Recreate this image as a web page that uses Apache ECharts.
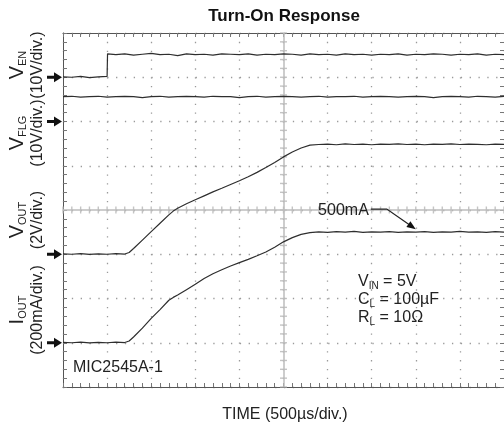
<!DOCTYPE html>
<html><head><meta charset="utf-8">
<script src="https://cdn.jsdelivr.net/npm/echarts/dist/echarts.min.js"></script>
<style>html,body{margin:0;padding:0;background:#fff}#c{width:504px;height:423px}</style>
</head><body><div id="c"></div>
<script>
// time axis: 500 µs/div, 10 divisions
const timeRangeUs = [0, 5000];
// V_EN (V), 10V/div
const venTrace = [[0,0.1],[100,0.0],[200,0.2],[300,-0.1],[400,0.1],[500,0.2],[505,5.3],[600,5.1],[700,5.3],[800,5.0],[900,5.2],[1000,5.4],[1100,5.1],[1200,5.2],[1300,4.9],[1400,5.3],[1500,5.1],[1600,5.2],[1700,5.0],[1800,5.3],[1900,5.2],[2000,5.1],[2100,5.3],[2200,5.0],[2300,5.2],[2400,5.1],[2500,5.3],[2600,5.2],[2700,5.0],[2800,5.3],[2900,5.1],[3000,5.2],[3100,5.0],[3200,5.3],[3300,5.1],[3400,5.2],[3500,5.0],[3600,5.2],[3700,5.1],[3800,5.3],[3900,5.0],[4000,5.2],[4100,5.1],[4200,5.3],[4300,5.2],[4400,5.0],[4500,5.2],[4600,5.1],[4700,5.3],[4800,5.0],[4900,5.2],[5000,5.1]];
// V_FLG (V), 10V/div
const vflgTrace = [[0,5.6],[100,5.7],[200,5.5],[300,5.6],[400,5.7],[500,5.5],[600,5.6],[700,5.7],[800,5.6],[900,5.4],[1000,5.6],[1100,5.7],[1200,5.5],[1300,5.6],[1400,5.7],[1500,5.6],[1600,5.5],[1700,5.7],[1800,5.6],[1900,5.6],[2000,5.4],[2100,5.6],[2200,5.7],[2300,5.5],[2400,5.6],[2500,5.7],[2600,5.6],[2700,5.5],[2800,5.6],[2900,5.7],[3000,5.5],[3100,5.6],[3200,5.6],[3300,5.7],[3400,5.5],[3500,5.6],[3600,5.7],[3700,5.6],[3800,5.5],[3900,5.6],[4000,5.7],[4100,5.6],[4200,5.4],[4300,5.6],[4400,5.7],[4500,5.6],[4600,5.5],[4700,5.7],[4800,5.6],[4900,5.5],[5000,5.7]];
// V_OUT (V), 2V/div
const voutTrace = [[0,0.02],[100,0.0],[200,0.03],[300,-0.01],[400,0.02],[500,0.0],[600,0.03],[700,0.01],[750,0.08],[800,0.26],[900,0.64],[1000,1.02],[1100,1.4],[1200,1.78],[1250,1.95],[1300,2.08],[1400,2.28],[1500,2.46],[1600,2.64],[1700,2.82],[1800,2.98],[1900,3.15],[2000,3.32],[2100,3.5],[2200,3.7],[2300,3.92],[2400,4.15],[2500,4.4],[2600,4.62],[2700,4.8],[2800,4.93],[2900,4.96],[3000,4.98],[3100,4.95],[3200,4.99],[3300,4.96],[3400,4.98],[3500,4.95],[3600,4.98],[3700,4.97],[3800,4.99],[3900,4.96],[4000,4.98],[4100,4.95],[4200,4.98],[4300,4.97],[4400,4.99],[4500,4.96],[4600,4.98],[4700,4.97],[4800,4.95],[4900,4.98],[5000,4.97]];
// I_OUT (mA), 200mA/div
const ioutTrace = [[0,2],[100,0],[200,3],[300,-1],[400,2],[500,0],[600,3],[700,1],[750,8],[800,26],[900,66],[1000,110],[1100,150],[1200,192],[1250,205],[1300,216],[1400,240],[1500,264],[1600,290],[1700,312],[1800,330],[1900,347],[2000,362],[2100,377],[2200,393],[2300,410],[2400,432],[2500,456],[2600,475],[2700,490],[2800,498],[2900,501],[3000,499],[3100,502],[3200,500],[3300,503],[3400,499],[3500,501],[3600,500],[3700,502],[3800,499],[3900,501],[4000,500],[4100,502],[4200,499],[4300,501],[4400,500],[4500,503],[4600,500],[4700,501],[4800,499],[4900,502],[5000,500]];
// channel scales: [min, max] so that each ground sits on its marker
const venRange = [-70, 10];
const vflgRange = [-60, 20];
const voutRange = [-6, 10];
const ioutRange = [-200, 1400];
const annotation500mA = [4000, 500];
const condLines = [['V', 'IN', ' = 5V'], ['C', 'L', ' = 100µF'], ['R', 'L', ' = 10Ω']];
const chLabels = [
  {main: 'V', sub: 'EN', unit: '(10V/div.)', y: 65},
  {main: 'V', sub: 'FLG', unit: '(10V/div.)', y: 133},
  {main: 'V', sub: 'OUT', unit: '(2V/div.)', y: 220},
  {main: 'I', sub: 'OUT', unit: '(200mA/div.)', y: 310}
];

const FONT = '"Liberation Sans", Arial, Helvetica, sans-serif';
const chart = echarts.init(document.getElementById('c'), null, {renderer: 'canvas'});
const mctx = document.createElement('canvas').getContext('2d');
const textW = (t, size) => { mctx.font = size + 'px ' + FONT; return mctx.measureText(t).width; };

function frameX(pos, split) {
  return {type: 'value', min: timeRangeUs[0], max: timeRangeUs[1], interval: 500, position: pos,
    axisLine: {show: true, onZero: false, lineStyle: {color: '#555', width: 1}},
    axisTick: {show: true, inside: true, length: 4, lineStyle: {color: '#777'}},
    minorTick: {show: true, splitNumber: 5, length: 4, lineStyle: {color: '#777'}},
    axisLabel: {show: false},
    splitLine: {show: split, lineStyle: {color: '#9a9a9a', width: 1.3, type: [1.3, 7.54]}}};
}
function frameY(pos, split) {
  return {type: 'value', min: 0, max: 8, interval: 1, position: pos,
    axisLine: {show: true, onZero: false, lineStyle: {color: '#555', width: 1}},
    axisTick: {show: true, inside: true, length: 4, lineStyle: {color: '#777'}},
    minorTick: {show: true, splitNumber: 5, length: 4, lineStyle: {color: '#777'}},
    axisLabel: {show: false},
    splitLine: {show: split, lineStyle: {color: '#9a9a9a', width: 1.3, type: [1.3, 7.54]}}};
}
const hiddenY = r => ({type: 'value', min: r[0], max: r[1], show: false, splitLine: {show: false}});

// center-line tick marks (decoration)
const hTicks = [], vTicks = [];
for (let t = 0; t <= 5000; t += 100) hTicks.push([t, 4]);
for (let i = 0; i <= 40; i++) vTicks.push([2500, i / 5]);

const traceStyle = {color: '#2e2e2e', width: 1.2};
const mkTrace = (data, yi) => ({type: 'line', data, xAxisIndex: 0, yAxisIndex: yi, showSymbol: false,
  symbol: 'none', lineStyle: traceStyle, silent: true, z: 5});

chart.setOption({
  animation: false,
  backgroundColor: '#fff',
  grid: {left: 63, top: 33, width: 442, height: 354},
  xAxis: [frameX('bottom', true), frameX('top', false)],
  yAxis: [frameY('left', true), frameY('right', false), hiddenY(venRange), hiddenY(vflgRange), hiddenY(voutRange), hiddenY(ioutRange)],
  series: [
    {type: 'scatter', data: hTicks, symbol: 'rect', symbolSize: [1.4, 7], itemStyle: {color: '#b5b5b5'}, silent: true, z: 2,
     markLine: {silent: true, symbol: ['none', 'none'], label: {show: false}, animation: false,
       lineStyle: {color: '#bdbdbd', width: 1.5, type: 'solid'}, data: [{xAxis: 2500}, {yAxis: 4}]}},
    {type: 'scatter', data: vTicks, symbol: 'rect', symbolSize: [7, 1.4], itemStyle: {color: '#b5b5b5'}, silent: true, z: 2},
    mkTrace(venTrace, 2), mkTrace(vflgTrace, 3), mkTrace(voutTrace, 4), mkTrace(ioutTrace, 5)
  ]
});

const g = [];
// text with subscript: group of pieces, local x from left
function subText(x, y, rot, main, mainSize, sub, subSize, subDy, tail, centered) {
  const wm = textW(main, mainSize), ws = textW(sub, subSize), wt = tail ? textW(tail, mainSize) : 0;
  const total = wm + ws + wt;
  const x0 = centered ? -total / 2 : 0;
  const ch = [
    {type: 'text', x: x0, y: 0, style: {text: main, font: mainSize + 'px ' + FONT, align: 'left', verticalAlign: 'middle', fill: '#222'}},
    {type: 'text', x: x0 + wm, y: subDy, style: {text: sub, font: subSize + 'px ' + FONT, align: 'left', verticalAlign: 'middle', fill: '#222'}}
  ];
  if (tail) ch.push({type: 'text', x: x0 + wm + ws, y: 0, style: {text: tail, font: mainSize + 'px ' + FONT, align: 'left', verticalAlign: 'middle', fill: '#222'}});
  return {type: 'group', x, y, rotation: rot, children: ch, z: 10};
}
// ground markers
[2, 3, 4, 5].forEach(k => {
  const y = chart.convertToPixel({yAxisIndex: k}, 0);
  g.push({type: 'polygon', shape: {points: [[47, y - 1.5], [54, y - 1.5], [54, y - 5], [62, y], [54, y + 5], [54, y + 1.5], [47, y + 1.5]]},
    style: {fill: '#111'}, z: 10});
});
// rotated channel labels
chLabels.forEach(c => {
  g.push(subText(17, c.y, Math.PI / 2, c.main, 20, c.sub, 11, 6, '', true));
  g.push({type: 'text', x: 38, y: c.y, rotation: Math.PI / 2,
    style: {text: c.unit, font: '16px ' + FONT, align: 'center', verticalAlign: 'middle', fill: '#222'}});
});
// title and axis name
g.push({type: 'text', x: 284, y: 16, style: {text: 'Turn-On Response', font: 'bold 17px ' + FONT, align: 'center', verticalAlign: 'middle', fill: '#111'}});
g.push({type: 'text', x: 285, y: 415, style: {text: 'TIME (500µs/div.)', font: '16px ' + FONT, align: 'center', verticalAlign: 'middle', fill: '#222'}});
g.push({type: 'text', x: 73, y: 368, style: {text: 'MIC2545A-1', font: '16px ' + FONT, align: 'left', verticalAlign: 'middle', fill: '#222'}, z: 10});
// conditions
condLines.forEach((p, i) => {
  g.push(subText(358, 282 + i * 18, 0, p[0], 16, p[1], 10, 4, p[2], false));
});
// 500mA leader arrow
const tip = chart.convertToPixel({xAxisIndex: 0, yAxisIndex: 5}, annotation500mA);
const tx = tip[0], ty = tip[1] - 3;
const ex = tx - 29, ey = ty - 20;
g.push({type: 'polyline', shape: {points: [[tx - 45, ey], [ex, ey], [tx - 5, ty - 3.4]]}, style: {stroke: '#222', lineWidth: 1.2, fill: null}, z: 10});
{
  const dx = tx - ex, dy = ty - ey, L = Math.hypot(dx, dy), ux = dx / L, uy = dy / L;
  const bx = tx - ux * 9, by = ty - uy * 9;
  g.push({type: 'polygon', shape: {points: [[tx, ty], [bx - uy * 3.5, by + ux * 3.5], [bx + uy * 3.5, by - ux * 3.5]]}, style: {fill: '#111'}, z: 10});
}
g.push({type: 'text', x: tx - 47, y: ey + 1, style: {text: '500mA', font: '16px ' + FONT, align: 'right', verticalAlign: 'middle', fill: '#222'}, z: 10});

chart.setOption({graphic: g});
</script>
</body></html>
